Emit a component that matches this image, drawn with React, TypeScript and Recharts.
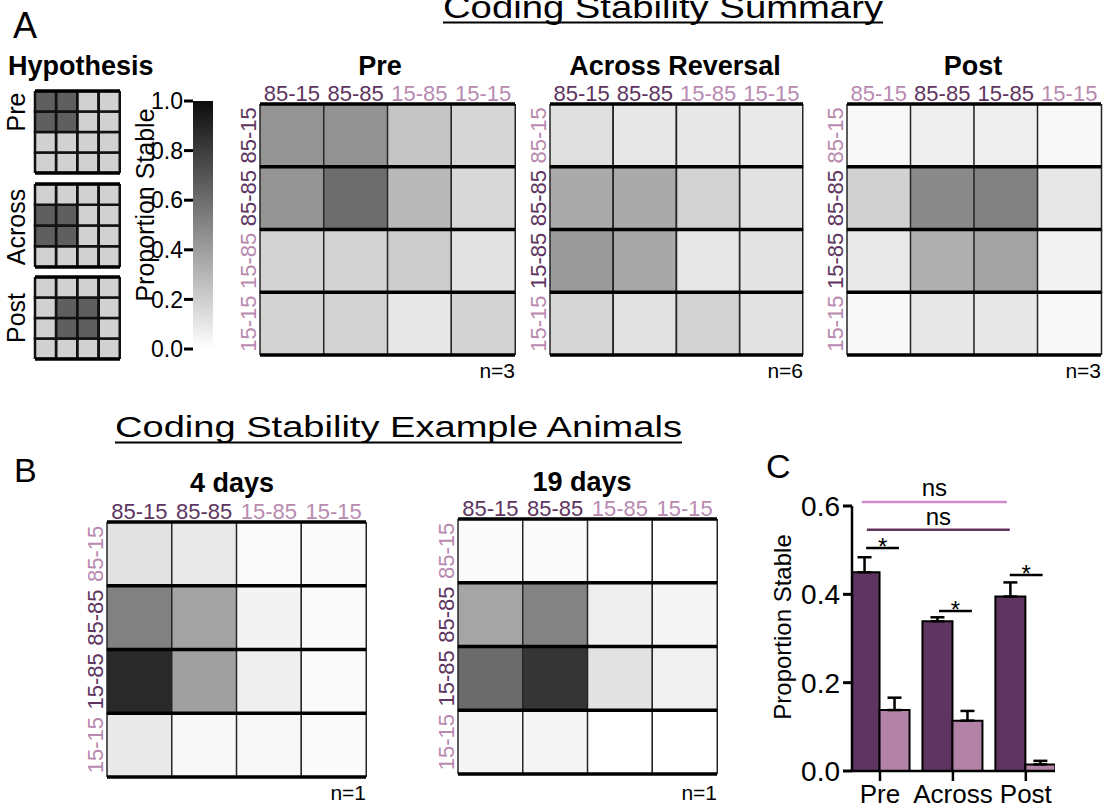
import React from 'react';
import { BarChart, Bar, XAxis, YAxis, Cell, ReferenceLine, ErrorBar } from 'recharts';

const FONT = '"Liberation Sans", Arial, sans-serif';
const DARK_LABEL = '#5e3561';
const LIGHT_LABEL = '#b98ab0';
const BAR_DARK = '#5e3560';
const BAR_LIGHT = '#b283a6';
const NS_PINK = '#cf8cc8';

// ---------- data ----------
const conditions = ['85-15', '85-85', '15-85', '15-15'];

const hypothesisPre = [
  [0.66, 0.66, 0.19, 0.19],
  [0.66, 0.66, 0.19, 0.19],
  [0.19, 0.19, 0.19, 0.19],
  [0.19, 0.19, 0.19, 0.19],
];
const hypothesisAcross = [
  [0.19, 0.19, 0.19, 0.19],
  [0.66, 0.66, 0.19, 0.19],
  [0.66, 0.66, 0.19, 0.19],
  [0.19, 0.19, 0.19, 0.19],
];
const hypothesisPost = [
  [0.19, 0.19, 0.19, 0.19],
  [0.19, 0.66, 0.66, 0.19],
  [0.19, 0.66, 0.66, 0.19],
  [0.19, 0.19, 0.19, 0.19],
];

const preValues = [
  [0.44, 0.45, 0.24, 0.17],
  [0.44, 0.6, 0.29, 0.16],
  [0.18, 0.18, 0.21, 0.12],
  [0.18, 0.18, 0.1, 0.18],
];
const acrossValues = [
  [0.13, 0.1, 0.1, 0.09],
  [0.35, 0.35, 0.18, 0.12],
  [0.41, 0.36, 0.1, 0.11],
  [0.17, 0.12, 0.18, 0.12],
];
const postValues = [
  [0.03, 0.07, 0.07, 0.03],
  [0.19, 0.48, 0.52, 0.1],
  [0.09, 0.33, 0.38, 0.05],
  [0.03, 0.1, 0.1, 0.03],
];
const day4Values = [
  [0.12, 0.09, 0.02, 0.02],
  [0.52, 0.38, 0.05, 0.02],
  [0.88, 0.39, 0.07, 0.02],
  [0.09, 0.03, 0.03, 0.02],
];
const day19Values = [
  [0.02, 0.02, 0.0, 0.0],
  [0.37, 0.51, 0.07, 0.04],
  [0.61, 0.83, 0.12, 0.06],
  [0.04, 0.04, 0.0, 0.0],
];

// which labels are highlighted (dark purple) per panel
const preCols = [true, true, false, false];
const preRows = [true, true, false, false];
const acrossCols = [true, true, false, false];
const acrossRows = [false, true, true, false];
const postCols = [false, true, true, false];
const postRows = [false, true, true, false];
const day4Cols = [true, true, false, false];
const day4Rows = [false, true, true, false];
const day19Cols = [true, true, false, false];
const day19Rows = [false, true, true, false];

const colorbarTicks = [0, 0.2, 0.4, 0.6, 0.8, 1.0];

const groups = ['Pre', 'Across', 'Post'];
const sameValues = [0.45, 0.339, 0.395];
const sameErrors = [0.034, 0.009, 0.032];
const diffValues = [0.138, 0.114, 0.015];
const diffErrors = [0.028, 0.022, 0.008];
const barTicksY = [0, 0.2, 0.4, 0.6];

const sigLines = [
  { x1: -0.25, x2: 1.74, y: 0.609, color: NS_PINK, text: 'ns', offset: 6 },
  { x1: -0.18, x2: 1.78, y: 0.546, color: BAR_DARK, text: 'ns', offset: 5 },
  { x1: -0.19, x2: 0.26, y: 0.505, color: '#000', text: '*', offset: -7 },
  { x1: 0.81, x2: 1.26, y: 0.362, color: '#000', text: '*', offset: -7 },
  { x1: 1.78, x2: 2.23, y: 0.444, color: '#000', text: '*', offset: -7 },
];

// ---------- helpers ----------
const grey = (v: number) => {
  const g = Math.round(255 - Math.max(0, Math.min(1, v)) * 243);
  return `rgb(${g},${g},${g})`;
};

const LABEL_FS = 22;

const makeColTick = (hi: boolean[]) => (props: any) => {
  const { x, y, payload } = props;
  const i = conditions.indexOf(payload.value);
  return (
    <text x={x} y={y - 3} textAnchor="middle" fontSize={LABEL_FS} fontFamily={FONT} fill={hi[i] ? DARK_LABEL : LIGHT_LABEL}>
      {payload.value}
    </text>
  );
};

const makeRowTick = (hi: boolean[]) => (props: any) => {
  const { x, y, payload } = props;
  const r = 3 - Math.floor(payload.value);
  return (
    <text
      transform={`translate(${x - 12},${y}) rotate(-90)`}
      textAnchor="middle"
      dominantBaseline="central"
      fontSize={LABEL_FS}
      fontFamily={FONT}
      fill={hi[r] ? DARK_LABEL : LIGHT_LABEL}
    >
      {conditions[r]}
    </text>
  );
};

function Heatmap({ values, colHi, rowHi, gx, gy, gw, gh }: any) {
  const ML = 40, MT = 40, MR = 6, MB = 6;
  const data = conditions.map((c) => ({ col: c, r0: 1, r1: 1, r2: 1, r3: 1 }));
  return (
    <div style={{ position: 'absolute', left: gx - ML, top: gy - MT }}>
      <BarChart
        width={gw + ML + MR}
        height={gh + MT + MB}
        data={data}
        margin={{ top: MT - 20, right: MR, bottom: MB, left: ML - 30 }}
        barCategoryGap={0}
        barGap={0}
      >
        <XAxis dataKey="col" orientation="top" height={20} axisLine={false} tickLine={false} tickSize={0} tickMargin={0} interval={0} tick={makeColTick(colHi)} />
        <YAxis type="number" domain={[0, 4]} ticks={[0.5, 1.5, 2.5, 3.5]} allowDataOverflow width={30} axisLine={false} tickLine={false} tickSize={0} tickMargin={0} interval={0} tick={makeRowTick(rowHi)} />
        {[3, 2, 1, 0].map((r) => (
          <Bar key={r} dataKey={`r${r}`} stackId="grid" isAnimationActive={false} stroke="#262626" strokeWidth={1.5}>
            {data.map((_, c) => (
              <Cell key={c} fill={grey(values[r][c])} />
            ))}
          </Bar>
        ))}
        {[0, 1, 2, 3, 4].map((y) => (
          <ReferenceLine key={y} y={y} stroke="#000" strokeWidth={3.5} />
        ))}
      </BarChart>
    </div>
  );
}

function MiniGrid({ values, gx, gy, gw, gh }: any) {
  const M = 3;
  const data = conditions.map((c) => ({ col: c, r0: 1, r1: 1, r2: 1, r3: 1 }));
  return (
    <div style={{ position: 'absolute', left: gx - M, top: gy - M }}>
      <BarChart width={gw + 2 * M} height={gh + 2 * M} data={data} margin={{ top: M, right: M, bottom: M, left: M }} barCategoryGap={0} barGap={0}>
        <XAxis dataKey="col" hide />
        <YAxis type="number" domain={[0, 4]} allowDataOverflow hide />
        {[3, 2, 1, 0].map((r) => (
          <Bar key={r} dataKey={`r${r}`} stackId="grid" isAnimationActive={false} stroke="#111" strokeWidth={2.5}>
            {data.map((_, c) => (
              <Cell key={c} fill={grey(values[r][c])} />
            ))}
          </Bar>
        ))}
        <ReferenceLine y={0} stroke="#000" strokeWidth={3.5} />
        <ReferenceLine y={4} stroke="#000" strokeWidth={3.5} />
      </BarChart>
    </div>
  );
}

function Colorbar() {
  const data = [{ k: 'bar', v: 1 }];
  return (
    <div style={{ position: 'absolute', left: 110, top: 81 }}>
      <BarChart width={107} height={288} data={data} margin={{ top: 20, right: 4, bottom: 20, left: 0 }} barCategoryGap={0}>
        <defs>
          <linearGradient id="cbGrad" x1="0" y1="1" x2="0" y2="0">
            {colorbarTicks.map((t) => (
              <stop key={t} offset={`${t * 100}%`} stopColor={grey(t)} />
            ))}
          </linearGradient>
        </defs>
        <XAxis dataKey="k" hide />
        <YAxis
          type="number"
          domain={[0, 1]}
          ticks={colorbarTicks}
          width={83}
          interval={0}
          axisLine={false}
          tickLine={{ stroke: '#000', strokeWidth: 3 }}
          tickSize={9}
          tickMargin={1}
          tick={{ fontSize: 23, fill: '#000', fontFamily: FONT }}
          tickFormatter={(v: number) => v.toFixed(1)}
        />
        <Bar dataKey="v" fill="url(#cbGrad)" isAnimationActive={false} />
      </BarChart>
    </div>
  );
}

function StabilityBars() {
  const data = groups.map((g, i) => ({
    x: i,
    name: g,
    same: sameValues[i],
    diff: diffValues[i],
    sameErr: [0, sameErrors[i]],
    diffErr: [0, diffErrors[i]],
  }));
  return (
    <div style={{ position: 'absolute', left: 760, top: 470 }}>
      <BarChart width={315} height={340} data={data} margin={{ top: 36, right: 20, bottom: 1, left: 0 }} barGap={0} barSize={30}>
        <XAxis
          type="number"
          dataKey="x"
          domain={[-0.384, 2.4]}
          ticks={[0, 1, 2]}
          allowDataOverflow
          interval={0}
          height={38}
          tickSize={10}
          tickMargin={4}
          axisLine={{ stroke: '#000', strokeWidth: 2.5 }}
          tickLine={{ stroke: '#000', strokeWidth: 2.5 }}
          tick={{ fontSize: 26, fill: '#000', fontFamily: FONT }}
          tickFormatter={(v: number) => groups[v]}
        />
        <YAxis
          type="number"
          domain={[0, 0.6]}
          ticks={barTicksY}
          interval={0}
          width={92}
          tickSize={9}
          tickMargin={3}
          axisLine={{ stroke: '#000', strokeWidth: 2.5 }}
          tickLine={{ stroke: '#000', strokeWidth: 3 }}
          tick={{ fontSize: 28, fill: '#000', fontFamily: FONT }}
          tickFormatter={(v: number) => v.toFixed(1)}
        />
        <Bar dataKey="same" fill={BAR_DARK} stroke="#000" strokeWidth={2} isAnimationActive={false}>
          <ErrorBar dataKey="sameErr" width={7} stroke="#000" strokeWidth={2.5} direction="y" />
        </Bar>
        <Bar dataKey="diff" fill={BAR_LIGHT} stroke="#000" strokeWidth={2} isAnimationActive={false}>
          <ErrorBar dataKey="diffErr" width={7} stroke="#000" strokeWidth={2.5} direction="y" />
        </Bar>
        {sigLines.map((s, i) => (
          <ReferenceLine
            key={i}
            segment={[{ x: s.x1, y: s.y }, { x: s.x2, y: s.y }]}
            stroke={s.color}
            strokeWidth={2.5}
            ifOverflow="visible"
            label={{ value: s.text, position: 'top', offset: s.offset, fontSize: 24, fill: '#000', fontFamily: FONT }}
          />
        ))}
      </BarChart>
    </div>
  );
}

export default function App() {
  return (
    <div style={{ position: 'absolute', left: 0, top: 0, width: 1109, height: 810, background: '#fff', fontFamily: FONT, overflow: 'hidden' }}>
      <MiniGrid values={hypothesisPre} gx={35} gy={91} gw={85} gh={82} />
      <MiniGrid values={hypothesisAcross} gx={35} gy={184} gw={85} gh={83} />
      <MiniGrid values={hypothesisPost} gx={35} gy={277} gw={85} gh={82} />
      <Colorbar />
      <Heatmap values={preValues} colHi={preCols} rowHi={preRows} gx={260} gy={104} gw={255} gh={251} />
      <Heatmap values={acrossValues} colHi={acrossCols} rowHi={acrossRows} gx={550} gy={104} gw={253} gh={251} />
      <Heatmap values={postValues} colHi={postCols} rowHi={postRows} gx={847} gy={104} gw={254} gh={251} />
      <Heatmap values={day4Values} colHi={day4Cols} rowHi={day4Rows} gx={107} gy={522} gw={259} gh={255} />
      <Heatmap values={day19Values} colHi={day19Cols} rowHi={day19Rows} gx={458} gy={519} gw={259} gh={255} />
      <StabilityBars />
      <svg width={1109} height={810} style={{ position: 'absolute', left: 0, top: 0, pointerEvents: 'none' }} fontFamily={FONT}>
        <text x={443} y={18} fontSize={32} textLength={440} lengthAdjust="spacingAndGlyphs">Coding Stability Summary</text>
        <line x1={443} x2={883} y1={22.5} y2={22.5} stroke="#000" strokeWidth={2} />
        <text x={115} y={437} fontSize={30} textLength={567} lengthAdjust="spacingAndGlyphs">Coding Stability Example Animals</text>
        <line x1={115} x2={682} y1={442.5} y2={442.5} stroke="#000" strokeWidth={2} />
        <text x={13} y={38} fontSize={36}>A</text>
        <text x={14} y={482} fontSize={34}>B</text>
        <text x={766} y={478} fontSize={34}>C</text>
        <text x={8} y={75} fontSize={27} fontWeight="bold">Hypothesis</text>
        <text transform="translate(16,112) rotate(-90)" textAnchor="middle" dominantBaseline="central" fontSize={25}>Pre</text>
        <text transform="translate(16,227) rotate(-90)" textAnchor="middle" dominantBaseline="central" fontSize={25}>Across</text>
        <text transform="translate(16,318) rotate(-90)" textAnchor="middle" dominantBaseline="central" fontSize={25}>Post</text>
        <text transform="translate(145,205) rotate(-90)" textAnchor="middle" dominantBaseline="central" fontSize={25}>Proportion Stable</text>
        <text x={380} y={75} fontSize={27} fontWeight="bold" textAnchor="middle">Pre</text>
        <text x={675} y={75} fontSize={27} fontWeight="bold" textAnchor="middle">Across Reversal</text>
        <text x={973} y={75} fontSize={27} fontWeight="bold" textAnchor="middle">Post</text>
        <text x={232} y={492} fontSize={27} fontWeight="bold" textAnchor="middle">4 days</text>
        <text x={582} y={491} fontSize={27} fontWeight="bold" textAnchor="middle">19 days</text>
        <text x={515} y={378} fontSize={21} textAnchor="end">n=3</text>
        <text x={803} y={378} fontSize={21} textAnchor="end">n=6</text>
        <text x={1101} y={378} fontSize={21} textAnchor="end">n=3</text>
        <text x={366} y={800} fontSize={21} textAnchor="end">n=1</text>
        <text x={717} y={800} fontSize={21} textAnchor="end">n=1</text>
        <text transform="translate(782,627) rotate(-90)" textAnchor="middle" dominantBaseline="central" fontSize={24}>Proportion Stable</text>
      </svg>
    </div>
  );
}
